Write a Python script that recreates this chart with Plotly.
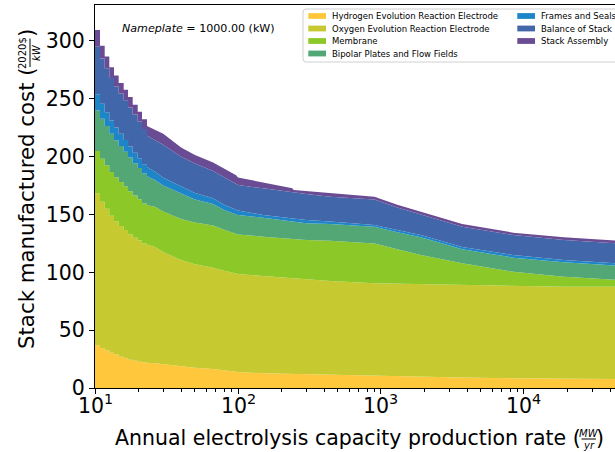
import numpy as np
import plotly.graph_objects as go

# ---------------- data ----------------
series_names = [
    "Hydrogen Evolution Reaction Electrode",
    "Oxygen Evolution Reaction Electrode",
    "Membrane",
    "Bipolar Plates and Flow Fields",
    "Frames and Seals",
    "Balance of Stack",
    "Stack Assembly",
]
series_colors = ["#FFC83C", "#C6C92F", "#8CC928", "#52A775", "#1E86C8", "#4266AA", "#6A4C94"]

# low production rates: discrete steps (edges of each step, MW/yr)
x_step_edges = [10.0, 10.84, 11.69, 12.59, 13.58, 14.64, 15.87, 17.02, 18.35, 19.89, 21.32, 23.1]
her_step = [37.0, 34.5, 32.5, 30.5, 29.0, 27.0, 25.8, 24.5, 23.5, 22.8, 22.0]
oer_step = [131.3, 126.5, 122.5, 118.5, 115.0, 113.0, 110.7, 108.5, 106.5, 104.7, 103.0]
mem_step = [36.7, 37.3, 37.5, 37.8, 38.2, 38.2, 37.8, 37.2, 36.4, 35.6, 34.5]
bip_step = [35.0, 34.5, 34.0, 33.0, 32.0, 31.0, 30.0, 29.0, 28.0, 27.0, 26.0]
frm_step = [14.0, 13.0, 12.0, 11.5, 11.0, 10.5, 10.0, 9.5, 9.0, 8.5, 8.0]
bal_step = [41.0, 39.0, 38.0, 36.6, 35.4, 35.0, 34.5, 33.8, 33.0, 31.8, 30.4]
asm_step = [14.5, 11.0, 10.0, 9.5, 9.5, 9.0, 9.0, 9.0, 8.5, 8.5, 8.5]

# higher production rates
x_smooth = [23.1, 26.3, 30, 40, 50, 67, 80, 97, 100, 150, 240, 245, 300, 440, 900, 1300, 1900, 3700, 8400, 19000, 45000]
her = [21.8, 21.3, 20.5, 18.4, 17.5, 16.5, 15.2, 14.0, 13.8, 12.7, 12.1, 12.1, 11.8, 11.6, 10.2, 10.0, 9.5, 9.0, 8.5, 8.1, 7.8]
oer = [102.2, 100.7, 97.0, 92.2, 89.5, 87.5, 86.2, 85.0, 84.8, 84.1, 82.7, 82.7, 82.2, 80.9, 80.3, 80.2, 80.1, 79.8, 79.7, 79.5, 79.8]
mem = [34.0, 34.7, 35.0, 35.5, 36.0, 36.5, 35.5, 34.5, 34.2, 34.0, 34.0, 34.0, 34.0, 34.8, 34.5, 29.7, 25.4, 19.0, 12.3, 8.6, 5.8]
bip = [25.0, 23.1, 22.5, 21.9, 20.0, 18.5, 17.0, 16.5, 16.8, 16.4, 15.0, 15.0, 14.4, 14.4, 14.3, 14.7, 15.3, 12.2, 12.2, 12.5, 12.3]
frm = [8.0, 7.2, 6.8, 6.0, 5.5, 5.0, 4.5, 4.0, 3.9, 2.4, 2.6, 2.6, 2.8, 2.3, 1.7, 2.0, 2.0, 2.0, 2.3, 2.0, 2.1]
bal = [27.0, 27.4, 28.5, 26.0, 25.5, 23.5, 23.5, 21.8, 22.0, 23.0, 22.5, 22.5, 22.5, 21.4, 22.0, 19.5, 17.7, 17.5, 17.3, 17.3, 17.2]
asm = [8.5, 9.0, 9.5, 8.0, 7.5, 7.5, 8.0, 8.2, 6.5, 5.2, 3.7, 2.3, 2.6, 2.9, 2.4, 2.4, 2.4, 2.3, 2.0, 2.3, 2.4]

x_tick_exponents = [1, 2, 3, 4]
y_ticks = [0, 50, 100, 150, 200, 250, 300]
nameplate_text = "<i>Nameplate</i> = 1000.00 (kW)"

# ---------------- build arrays ----------------
step_sets = [her_step, oer_step, mem_step, bip_step, frm_step, bal_step, asm_step]
smooth_sets = [her, oer, mem, bip, frm, bal, asm]

x_all = []
for k in range(len(her_step)):
    x_all += [x_step_edges[k], x_step_edges[k + 1]]
x_all += x_smooth
x_all = np.array(x_all, dtype=float)

vals = []
for st, sm in zip(step_sets, smooth_sets):
    v = []
    for k in range(len(st)):
        v += [st[k], st[k]]
    v += sm
    vals.append(np.array(v, dtype=float))
cum = np.cumsum(np.vstack(vals), axis=0)

# ---------------- figure ----------------
W, H = 615, 452
ML, MT, MR, MB = 95, 5, 0, 64
PW, PH = W - ML - MR, H - MT - MB


def px(x):
    return (x - ML) / PW


def py(y):
    return (H - MB - y) / PH


fig = go.Figure()
for i, name in enumerate(series_names):
    fig.add_trace(go.Scatter(
        x=x_all, y=cum[i], name=name, mode="lines",
        line=dict(width=0, color=series_colors[i]),
        fill="tozeroy" if i == 0 else "tonexty",
        fillcolor=series_colors[i],
        hoverinfo="skip", showlegend=False,
    ))

FONT = "DejaVu Sans"
fig.update_layout(
    width=W, height=H,
    margin=dict(l=ML, r=MR, t=MT, b=MB, pad=0),
    plot_bgcolor="white", paper_bgcolor="white",
    showlegend=False,
    font=dict(family=FONT, color="black"),
)
fig.update_xaxes(
    type="log", range=[1, np.log10(43300)], tickvals=[10 ** e for e in x_tick_exponents],
    showticklabels=False,
    showgrid=False, zeroline=False, showline=True, linecolor="black", linewidth=1,
    mirror=True, ticks="outside", ticklen=5, tickwidth=1, tickcolor="black",
    minor=dict(ticks="outside", ticklen=3, tickwidth=1, tickcolor="black", dtick="D1", showgrid=False),
    automargin=False,
)
fig.update_yaxes(
    range=[0, (H - MB - MT) / 1.1567], tickvals=y_ticks,
    showgrid=False, zeroline=False, showline=True, linecolor="black", linewidth=1,
    ticks="outside", ticklen=5, tickwidth=1, tickcolor="black",
    tickfont=dict(family=FONT, size=20.5, color="black"),
    automargin=False,
)

ann = []
shapes = []
# x tick labels (10^n)
for e in x_tick_exponents:
    ann.append(dict(xref="x", yref="paper", x=e, y=py(420), text=f"10<sup>{e}</sup>",
                    showarrow=False, xanchor="center", yanchor="bottom",
                    font=dict(family=FONT, size=20.5, color="black")))

# nameplate text
ann.append(dict(xref="paper", yref="paper", x=px(198.5), y=py(29), text=nameplate_text,
                showarrow=False, xanchor="center", yanchor="middle",
                font=dict(family=FONT, size=11.1, color="black")))

# legend (manual, partly cut by the figure edge)
lx0, lx1, ly0, ly1, r = 303, 680, 9, 62, 3
path = (f"M {px(lx0 + r)},{py(ly0)} L {px(lx1)},{py(ly0)} L {px(lx1)},{py(ly1)} "
        f"L {px(lx0 + r)},{py(ly1)} Q {px(lx0)},{py(ly1)} {px(lx0)},{py(ly1 - r)} "
        f"L {px(lx0)},{py(ly0 + r)} Q {px(lx0)},{py(ly0)} {px(lx0 + r)},{py(ly0)} Z")
shapes.append(dict(type="path", xref="paper", yref="paper", path=path,
                   line=dict(color="#d0d0d0", width=1), fillcolor="rgba(255,255,255,0.85)"))
row_y = [16, 28.5, 41, 53.5]
col_x = [(308.3, 332), (517.3, 541)]
positions = [(0, 0), (0, 1), (0, 2), (0, 3), (1, 0), (1, 1), (1, 2)]
for i, (c, rrow) in enumerate(positions):
    sx, tx = col_x[c]
    yc = row_y[rrow]
    shapes.append(dict(type="rect", xref="paper", yref="paper",
                       x0=px(sx), x1=px(sx + 17.7), y0=py(yc - 2.9), y1=py(yc + 2.9),
                       line=dict(width=0), fillcolor=series_colors[i]))
    ann.append(dict(xref="paper", yref="paper", x=px(tx - 2), y=py(yc), text=series_names[i],
                    showarrow=False, xanchor="left", yanchor="middle",
                    font=dict(family=FONT, size=8.5, color="black")))

# x axis title with fraction
ann.append(dict(xref="paper", yref="paper", x=px(583), y=py(438),
                text="Annual electrolysis capacity production rate (", showarrow=False,
                xanchor="right", yanchor="middle", font=dict(family=FONT, size=20.5, color="black")))
ann.append(dict(xref="paper", yref="paper", x=px(588.5), y=py(433), text="<i>MW</i>", showarrow=False,
                xanchor="center", yanchor="middle", font=dict(family=FONT, size=10, color="black")))
ann.append(dict(xref="paper", yref="paper", x=px(588.5), y=py(445), text="<i>yr</i>", showarrow=False,
                xanchor="center", yanchor="middle", font=dict(family=FONT, size=10, color="black")))
shapes.append(dict(type="line", xref="paper", yref="paper", x0=px(581.5), x1=px(596),
                   y0=py(439), y1=py(439), line=dict(color="black", width=1)))
ann.append(dict(xref="paper", yref="paper", x=px(594), y=py(438), text=")", showarrow=False,
                xanchor="left", yanchor="middle", font=dict(family=FONT, size=20.5, color="black")))

# y axis title with fraction (rotated)
ann.append(dict(xref="paper", yref="paper", x=px(26), y=py(65),
                text="Stack manufactured cost (", showarrow=False, textangle=-90,
                xanchor="center", yanchor="top", font=dict(family=FONT, size=21.3, color="black")))
ann.append(dict(xref="paper", yref="paper", x=px(23), y=py(53), text="2020$", showarrow=False,
                textangle=-90, xanchor="center", yanchor="middle",
                font=dict(family=FONT, size=10, color="black")))
ann.append(dict(xref="paper", yref="paper", x=px(37), y=py(53), text="<i>kW</i>", showarrow=False,
                textangle=-90, xanchor="center", yanchor="middle",
                font=dict(family=FONT, size=10, color="black")))
shapes.append(dict(type="line", xref="paper", yref="paper", x0=px(30), x1=px(30),
                   y0=py(38.5), y1=py(67), line=dict(color="black", width=1)))
ann.append(dict(xref="paper", yref="paper", x=px(26), y=py(39), text=")", showarrow=False,
                textangle=-90, xanchor="center", yanchor="bottom",
                font=dict(family=FONT, size=21.3, color="black")))

fig.update_layout(annotations=ann, shapes=shapes)
fig.write_html("out.html")
